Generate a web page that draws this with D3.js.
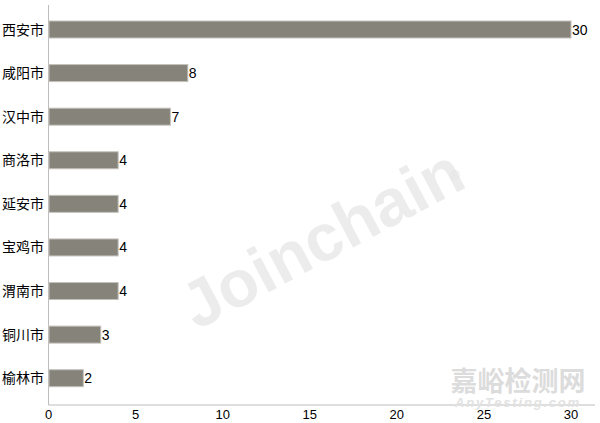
<!DOCTYPE html>
<html>
<head>
<meta charset="utf-8">
<script src="https://cdn.jsdelivr.net/npm/d3@7"></script>
<style>
  body { margin: 0; background: #fff; }
  svg text { font-family: "Liberation Sans", Arial, "Noto Sans CJK SC", sans-serif; }
</style>
</head>
<body>
<div class="chart"></div>
<script>
const cities = ["西安市", "咸阳市", "汉中市", "商洛市", "延安市", "宝鸡市", "渭南市", "铜川市", "榆林市"];
const counts = [30, 8, 7, 4, 4, 4, 4, 3, 2];
const xTicks = [0, 5, 10, 15, 20, 25, 30];

const width = 600, height = 423;
const data = cities.map((c, i) => ({city: c, n: counts[i]}));

const svg = d3.select(".chart").append("svg")
  .attr("width", width)
  .attr("height", height);

let xScale = d3.scaleLinear().domain([0, 30]).range([48.5, 571]);
let yScale = d3.scaleBand().domain(cities).range([7.7, 400])
  .paddingInner(0.61).paddingOuter(0.305);

// watermark
svg.append("text")
  .attr("transform", "translate(322,238) rotate(-28)")
  .attr("text-anchor", "middle")
  .attr("dominant-baseline", "central")
  .attr("font-size", 66)
  .attr("font-weight", "bold")
  .attr("fill", "#ececec")
  .text("Joinchain");
svg.append("text")
  .attr("transform", "translate(450,180)")
  .attr("font-size", 13)
  .attr("fill", "#e4e4e4")
  .text("®");

// axes
svg.append("line")
  .attr("x1", xScale(0)).attr("x2", xScale(0))
  .attr("y1", 5).attr("y2", 405)
  .attr("stroke", "#bdbdbd");

svg.append("line")
  .attr("x1", xScale(0)).attr("x2", 595)
  .attr("y1", 405).attr("y2", 405)
  .attr("stroke", "#bdbdbd");

// corner watermark
svg.append("text")
  .attr("x", 518).attr("y", 391)
  .attr("text-anchor", "middle")
  .attr("font-size", 27)
  .attr("font-weight", "bold")
  .attr("fill", "#dcdcdc")
  .text("嘉峪检测网");
svg.append("text")
  .attr("x", 518).attr("y", 407)
  .attr("text-anchor", "middle")
  .attr("font-size", 13)
  .attr("font-weight", "bold")
  .attr("font-style", "italic")
  .attr("letter-spacing", 1.8)
  .attr("fill", "#e2e2e2")
  .text("AnyTesting.com");

svg.selectAll(".tick-label")
  .data(xTicks)
  .enter()
  .append("text")
  .attr("class", "tick-label")
  .attr("x", d => xScale(d))
  .attr("y", 419)
  .attr("text-anchor", "middle")
  .attr("font-size", 13)
  .attr("fill", "#000")
  .text(d => d);

// bars
let rows = svg.selectAll(".row")
  .data(data)
  .enter()
  .append("g")
  .attr("class", "row");

rows.append("rect")
  .attr("x", xScale(0) + 0.5)
  .attr("y", d => yScale(d.city))
  .attr("width", d => xScale(d.n) - xScale(0) - 0.5)
  .attr("height", yScale.bandwidth())
  .attr("fill", "#86837b")
  .attr("stroke", "#c4c2bc")
  .attr("stroke-width", 1);

rows.append("text")
  .attr("x", 44)
  .attr("y", d => yScale(d.city) + yScale.bandwidth() / 2)
  .attr("dy", "0.36em")
  .attr("text-anchor", "end")
  .attr("font-size", 14)
  .attr("fill", "#000")
  .text(d => d.city);

rows.append("text")
  .attr("x", d => xScale(d.n) + 1)
  .attr("y", d => yScale(d.city) + yScale.bandwidth() / 2)
  .attr("dy", "0.36em")
  .attr("font-size", 14)
  .attr("fill", "#000")
  .text(d => d.n);
</script>
</body>
</html>
